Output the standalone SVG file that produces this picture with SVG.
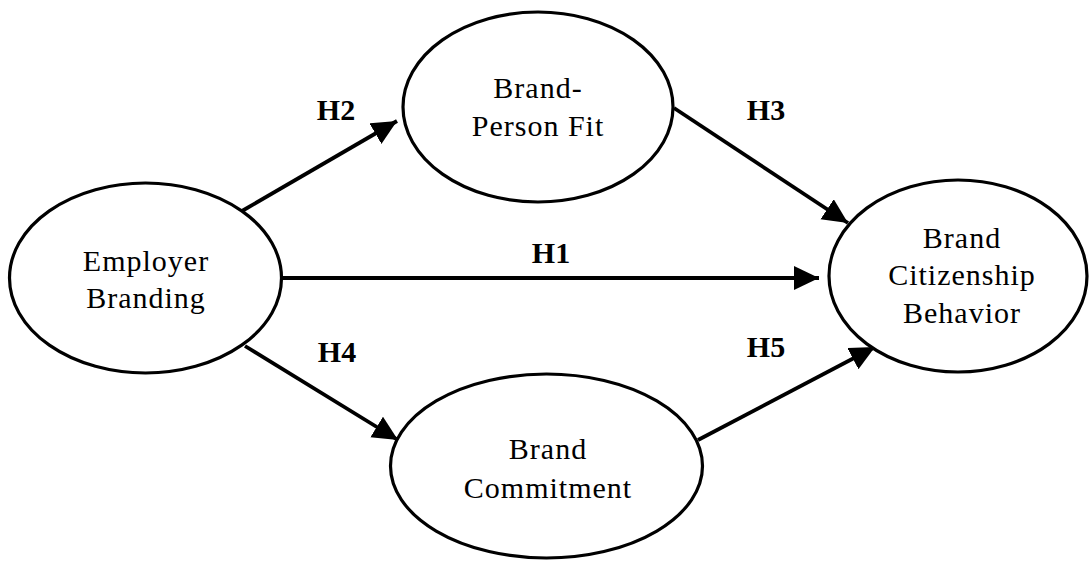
<svg xmlns="http://www.w3.org/2000/svg" width="1089" height="562" viewBox="0 0 1089 562">
  <style>
    .node ellipse { fill: #fff; stroke: #000; stroke-width: 3.2; }
    .node text { font-family: "Liberation Serif", "Times New Roman", serif; font-size: 30px; letter-spacing: 1px; text-anchor: middle; fill: #000; }
    .conn line { stroke: #000; stroke-width: 3.8; marker-end: url(#arrow); }
    .lbl { font-family: "Liberation Serif", "Times New Roman", serif; font-size: 30px; font-weight: bold; text-anchor: middle; fill: #000; }
  </style>
  <defs>
    <marker id="arrow" markerUnits="userSpaceOnUse" markerWidth="28" markerHeight="26" refX="25" refY="12" orient="auto">
      <path d="M0,0 L25,12 L0,24 z" fill="#000"/>
    </marker>
  </defs>
  <rect width="1089" height="562" fill="#fff"/>
  <g id="connectors" class="conn">
    <line x1="242" y1="211" x2="397" y2="121"/>
    <line x1="282" y1="278" x2="819" y2="278"/>
    <line x1="674" y1="108" x2="848" y2="223"/>
    <line x1="245" y1="346" x2="398" y2="440"/>
    <line x1="698" y1="440" x2="875" y2="347"/>
  </g>
  <g id="labels">
    <text class="lbl" x="336" y="120">H2</text>
    <text class="lbl" x="551" y="263">H1</text>
    <text class="lbl" x="766" y="120">H3</text>
    <text class="lbl" x="337" y="362">H4</text>
    <text class="lbl" x="766" y="357">H5</text>
  </g>
  <g id="employer-branding" class="node">
    <ellipse cx="145.5" cy="278" rx="136" ry="95"/>
    <text x="146" y="271">Employer</text>
    <text x="146" y="308">Branding</text>
  </g>
  <g id="brand-person-fit" class="node">
    <ellipse cx="538" cy="107" rx="135" ry="95"/>
    <text x="538" y="98">Brand-</text>
    <text x="538" y="136">Person Fit</text>
  </g>
  <g id="brand-citizenship-behavior" class="node">
    <ellipse cx="958" cy="276" rx="129" ry="96"/>
    <text x="962" y="248">Brand</text>
    <text x="962" y="285">Citizenship</text>
    <text x="962" y="323">Behavior</text>
  </g>
  <g id="brand-commitment" class="node">
    <ellipse cx="546.5" cy="466" rx="156" ry="92"/>
    <text x="548" y="459">Brand</text>
    <text x="548" y="498">Commitment</text>
  </g>
</svg>
